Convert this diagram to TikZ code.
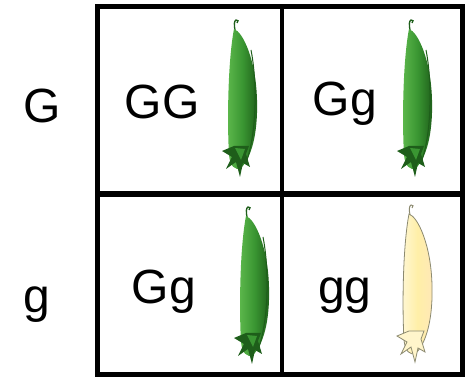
\documentclass[tikz,border=0pt]{standalone}
\usepackage{fontspec}
\setmainfont{Liberation Sans}
\definecolor{podlight}{HTML}{5DB84C}
\definecolor{podmid}{HTML}{3A9632}
\definecolor{poddark}{HTML}{1E5E1A}
\definecolor{podcream}{HTML}{FFEFA8}
\definecolor{podline}{HTML}{8C8A70}
% outline of a pea pod, tip of the stalk at the origin, y pointing down
\newcommand\peapodpath{(-1,9) .. controls (8,12) and (21,40) .. (22,80)
  .. controls (23,115) and (16,138) .. (6,148)
  .. controls (0,151) and (-5,146) .. (-6,135)
  .. controls (-8,100) and (-7,40) .. (-1,9) -- cycle}
\newcommand\peacalyxpath{(-1,126) -- (-13,131) -- (-3,137) -- (-9,149)
  -- (1,142) -- (5,157) -- (8,143) -- (15,147) -- (11,134) -- (14,126) -- cycle}
\tikzset{
  x=1pt, y=-1pt,
  grid/.style={line width=5pt, line join=miter},
  label/.style={font=\fontsize{48}{48}\selectfont, anchor=base, inner sep=0pt},
  pics/greenpod/.style={code={
    \draw[poddark, line width=1.3pt] (0,10) .. controls (-1,5) and (-1,1) .. (1,0)
      .. controls (3,-1) and (4,2) .. (2,3);
    \shade[left color=podlight, right color=poddark, middle color=podmid] \peapodpath;
    \draw[poddark, line width=1pt] (16,30) .. controls (22,60) and (22,110) .. (12,140);
    \fill[poddark] \peacalyxpath;
    \fill[podmid] (0,128) -- (6,140) -- (10,129) -- cycle;
  }},
  pics/yellowpod/.style={code={
    \draw[podline, line width=1pt] (0,10) .. controls (-1,5) and (-1,1) .. (1,0)
      .. controls (3,-1) and (4,2) .. (2,3);
    \shade[left color=podcream!50, right color=podcream!80!orange!60, middle color=podcream] \peapodpath;
    \draw[podline, line width=0.8pt] \peapodpath;
    \filldraw[fill=podcream!60, draw=podline, line width=0.8pt] \peacalyxpath;
  }}
}
\begin{document}
\begin{tikzpicture}
  \useasboundingbox (0,0) rectangle (467,379);
  \fill[white] (0,0) rectangle (467,379);

  % row labels
  \node[label] (rowG) at (42,123) {G};
  \node[label] (rowg) at (37,313) {g};

  % cell contents
  \node[label] (GG) at (162,119) {GG};
  \node[label] (Gg1) at (345,116) {Gg};
  \node[label] (Gg2) at (164,304) {Gg};
  \node[label] (gg) at (345,304) {gg};

  \pic at (235,20) {greenpod};
  \pic at (410,20) {greenpod};
  \pic at (247,207) {greenpod};
  \pic at (410,205) {yellowpod};

  % Punnett square
  \draw[grid] (97.5,6.5) rectangle (462.5,374.5);
  \draw[line width=4pt] (282,6.5) -- (282,374.5);
  \draw[line width=6pt] (97.5,194) -- (462.5,194);
\end{tikzpicture}
\end{document}
